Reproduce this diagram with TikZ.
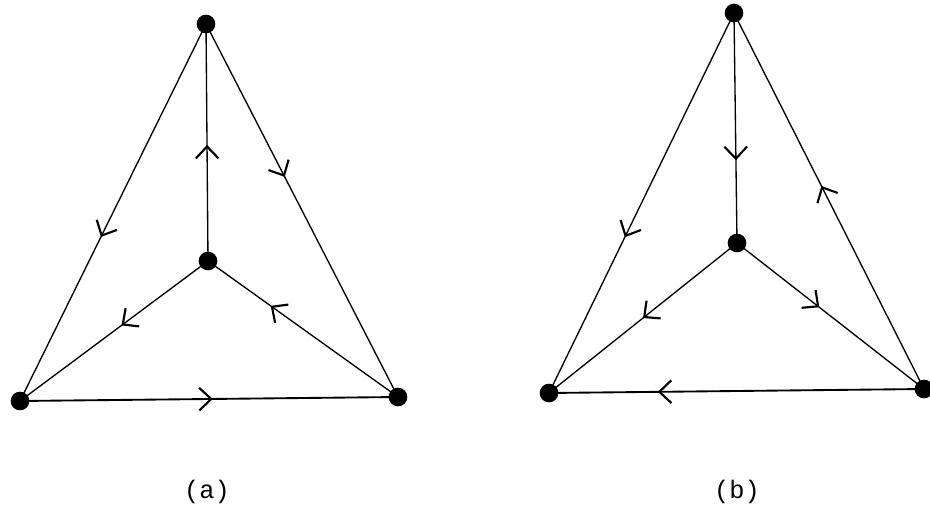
\documentclass[tikz,border=0pt]{standalone}
\usepackage{fontspec}
\setmonofont{Liberation Mono}
\usetikzlibrary{arrows.meta,decorations.markings}
\tikzset{
  vtx/.style={circle,fill=black,inner sep=0pt,minimum size=14pt},
  edge/.style={line width=1pt},
  arr/.style={postaction={decorate},decoration={markings,
    mark=at position #1 with {\arrow{Straight Barb[length=9pt,width=17pt,line width=1.6pt]}}}},
  lbl/.style={font=\ttfamily\fontsize{19}{21}\selectfont}
}
\begin{document}
\begin{tikzpicture}[x=0.75pt,y=-0.75pt]
\useasboundingbox (0,0) rectangle (930,531);
% (a)
\node[vtx] (at) at (206,24) {};
\node[vtx] (ac) at (208,261) {};
\node[vtx] (al) at (20,401) {};
\node[vtx] (ar) at (398,397) {};
\draw[edge,arr=0.565] (at.center) -- (al.center);
\draw[edge,arr=0.41] (at.center) -- (ar.center);
\draw[edge,arr=0.49] (ac.center) -- (at.center);
\draw[edge,arr=0.46] (ac.center) -- (al.center);
\draw[edge,arr=0.67] (ar.center) -- (ac.center);
\draw[edge,line width=1.4pt,arr=0.51] (al.center) -- (ar.center);
\node[lbl] (la) at (207,492) {(a)};
% (b)
\node[vtx] (bt) at (734,13) {};
\node[vtx] (bc) at (737,243) {};
\node[vtx] (bl) at (549,393) {};
\node[vtx] (br) at (924,389) {};
\draw[edge,arr=0.59] (bt.center) -- (bl.center);
\draw[edge,arr=0.54] (br.center) -- (bt.center);
\draw[edge,arr=0.64] (bt.center) -- (bc.center);
\draw[edge,arr=0.5] (bc.center) -- (bl.center);
\draw[edge,arr=0.44] (bc.center) -- (br.center);
\draw[edge,line width=1.4pt,arr=0.71] (br.center) -- (bl.center);
\node[lbl] (lb) at (737,492) {(b)};
\end{tikzpicture}
\end{document}
